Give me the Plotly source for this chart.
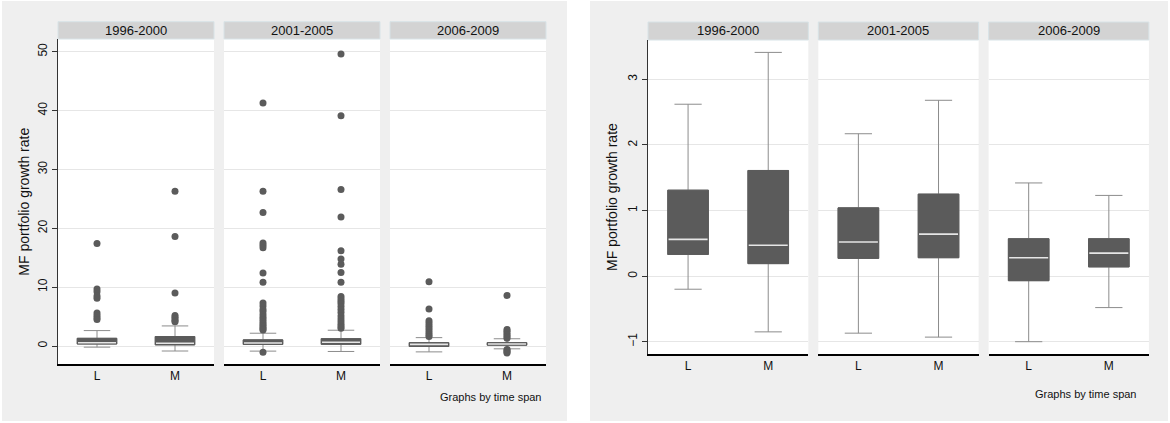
import plotly.graph_objects as go

# ---------------- data ----------------
periods = ["1996-2000", "2001-2005", "2006-2009"]
groups = ["L", "M"]

# box statistics per period, ordered [L, M]
q1 = {"1996-2000": [0.33, 0.19], "2001-2005": [0.27, 0.28], "2006-2009": [-0.07, 0.14]}
median = {"1996-2000": [0.56, 0.47], "2001-2005": [0.52, 0.64], "2006-2009": [0.28, 0.35]}
q3 = {"1996-2000": [1.31, 1.61], "2001-2005": [1.04, 1.25], "2006-2009": [0.57, 0.57]}
lower_whisker = {"1996-2000": [-0.20, -0.85], "2001-2005": [-0.87, -0.93], "2006-2009": [-1.00, -0.48]}
upper_whisker = {"1996-2000": [2.62, 3.41], "2001-2005": [2.17, 2.68], "2006-2009": [1.42, 1.23]}

# outside values (shown only in the left graph)
outliers = {
    ("1996-2000", "L"): [17.4, 9.7, 9.2, 8.5, 8.1, 5.6, 5.2, 4.8, 4.5],
    ("1996-2000", "M"): [26.3, 18.6, 9.0, 5.2, 4.9, 4.6, 4.3, 4.1],
    ("2001-2005", "L"): [41.3, 26.3, 22.7, 17.5, 17.1, 16.7, 12.4, 10.85,
                         7.3, 6.8, 6.2, 5.8, 5.3, 4.9, 4.5, 4.1, 3.8, 3.5, 3.2, 2.9, 2.7, -1.05],
    ("2001-2005", "M"): [49.6, 39.1, 26.6, 21.9, 16.2, 14.8, 13.9, 12.5, 10.85,
                         8.4, 8.0, 7.6, 7.2, 6.7, 6.2, 5.7, 5.1, 4.6, 4.1, 3.7, 3.3, 3.0],
    ("2006-2009", "L"): [10.9, 6.3, 4.3, 3.9, 3.5, 3.1, 2.7, 2.3, 1.9, 1.6],
    ("2006-2009", "M"): [8.6, 2.8, 2.5, 2.2, 1.9, 1.6, 1.3, -0.6, -0.8, -1.0, -1.2],
}

left_ticks = [0, 10, 20, 30, 40, 50]
right_ticks = [-1, 0, 1, 2, 3]
y_title = "MF portfolio growth rate"
note = "Graphs by time span"

# ---------------- styling / layout ----------------
W, H = 1170, 423
FONT = "Liberation Sans, Arial, sans-serif"
BOX = "#5b5b5b"
WHISK = "#8c8c8c"
MED = "#e6e6e6"
GRID = "#e6e6e6"
BG = "#efefef"
STRIP = "#d3d3d3"

def px(x):
    return x / W

def py(y):
    return 1 - y / H

graphs = [
    dict(x0s=[58, 224, 390], w=156, top=39, bot=364.3, strip_top=21.7,
         yrange=[-3.11, 52.16], ticks=left_ticks, show_out=True,
         bg=(2, 1, 567, 421), title_x=24, note_x=544, note_y=396.7),
    dict(x0s=[648, 818.3, 988.6], w=160.3, top=40, bot=354, strip_top=22,
         yrange=[-1.1875, 3.599], ticks=right_ticks, show_out=False,
         bg=(590, 1, 1168, 421), title_x=612, note_x=1139.3, note_y=394),
]

BW = 0.507  # box width in category units

fig = go.Figure()
shapes = []
annotations = []
layout_axes = {}

ax = 0
for g in graphs:
    x0b, y0b, x1b, y1b = g["bg"]
    shapes.append(dict(type="rect", xref="paper", yref="paper", layer="below",
                       x0=px(x0b), x1=px(x1b), y0=py(y1b), y1=py(y0b),
                       fillcolor=BG, line=dict(width=0)))
    for pi, period in enumerate(periods):
        ax += 1
        xa = "x" if ax == 1 else f"x{ax}"
        ya = "y" if ax == 1 else f"y{ax}"
        xl = g["x0s"][pi]
        xr = xl + g["w"]
        # white plot area
        shapes.append(dict(type="rect", xref="paper", yref="paper", layer="below",
                           x0=px(xl), x1=px(xr), y0=py(g["bot"]), y1=py(g["top"]),
                           fillcolor="white", line=dict(width=0)))
        # strip
        shapes.append(dict(type="rect", xref="paper", yref="paper",
                           x0=px(xl), x1=px(xr), y0=py(g["top"]), y1=py(g["strip_top"]),
                           fillcolor=STRIP, line=dict(color="#d8e3e7", width=1)))
        annotations.append(dict(xref="paper", yref="paper", x=px((xl + xr) / 2),
                                y=py((g["top"] + g["strip_top"]) / 2), text=period,
                                showarrow=False, font=dict(size=13, color="#111", family=FONT),
                                xanchor="center", yanchor="middle"))
        for gi, grp in enumerate(groups):
            # whiskers (gray)
            fig.add_trace(go.Box(
                x=[gi], q1=[q1[period][gi]], median=[median[period][gi]], q3=[q3[period][gi]],
                lowerfence=[lower_whisker[period][gi]], upperfence=[upper_whisker[period][gi]],
                width=BW, whiskerwidth=0.67, fillcolor=BOX, line=dict(color=WHISK, width=1),
                boxpoints=False, showlegend=False, xaxis=xa, yaxis=ya, hoverinfo="skip"))
            # dark box body on top
            fig.add_trace(go.Box(
                x=[gi], q1=[q1[period][gi]], median=[median[period][gi]], q3=[q3[period][gi]],
                lowerfence=[q1[period][gi]], upperfence=[q3[period][gi]],
                width=BW, whiskerwidth=0, fillcolor=BOX, line=dict(color=BOX, width=1),
                boxpoints=False, showlegend=False, xaxis=xa, yaxis=ya, hoverinfo="skip"))
            m = median[period][gi]
            fig.add_trace(go.Scatter(
                x=[gi - BW / 2 + 0.01, gi + BW / 2 - 0.01], y=[m, m], mode="lines",
                line=dict(color=MED, width=1.6), showlegend=False, xaxis=xa, yaxis=ya,
                hoverinfo="skip"))
            if g["show_out"]:
                vals = outliers[(period, grp)]
                fig.add_trace(go.Scatter(
                    x=[gi] * len(vals), y=vals, mode="markers",
                    marker=dict(size=7, color=BOX), showlegend=False,
                    xaxis=xa, yaxis=ya, hoverinfo="skip"))
        first = pi == 0
        layout_axes[f"xaxis{'' if ax == 1 else ax}"] = dict(
            domain=[px(xl), px(xr)], anchor=ya, range=[-0.5, 1.5],
            tickvals=[0, 1], ticktext=groups, ticks="", ticklen=0, showgrid=False, zeroline=False,
            showline=True, linecolor="#000", linewidth=1.5,
            tickfont=dict(size=12, color="#111", family=FONT), fixedrange=True)
        layout_axes[f"yaxis{'' if ax == 1 else ax}"] = dict(
            domain=[py(g["bot"]), py(g["top"])], anchor=xa, range=g["yrange"],
            tickvals=g["ticks"], showticklabels=first, ticks="outside" if first else "",
            ticklen=5, tickcolor="#333", tickangle=-90,
            showgrid=True, gridcolor=GRID, gridwidth=1, zeroline=False,
            showline=first, linecolor="#333", linewidth=1.2,
            tickfont=dict(size=12, color="#111", family=FONT), fixedrange=True)
    annotations.append(dict(xref="paper", yref="paper", x=px(g["title_x"]),
                            y=py((g["top"] + g["bot"]) / 2), text=y_title, textangle=-90,
                            showarrow=False, font=dict(size=14, color="#111", family=FONT),
                            xanchor="center", yanchor="middle"))
    annotations.append(dict(xref="paper", yref="paper", x=px(g["note_x"]), y=py(g["note_y"]),
                            text=note, showarrow=False,
                            font=dict(size=11, color="#111", family=FONT),
                            xanchor="right", yanchor="middle"))

fig.update_layout(
    width=W, height=H, margin=dict(l=0, r=0, t=0, b=0),
    paper_bgcolor="white", plot_bgcolor="white",
    shapes=shapes, annotations=annotations, font=dict(family=FONT),
    **layout_axes)

fig.write_html("out.html", config={"displayModeBar": False},
               post_script="document.body.style.margin='0';document.body.style.overflow='hidden';")
